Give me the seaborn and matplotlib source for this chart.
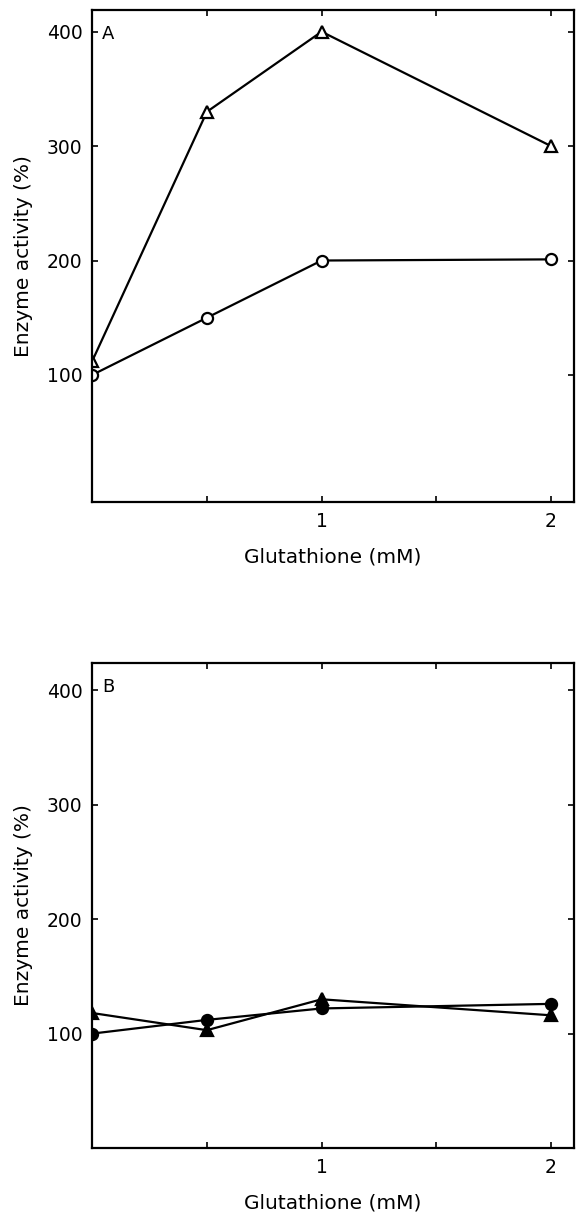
import matplotlib
matplotlib.use("Agg")
import matplotlib.pyplot as plt
import seaborn as sns
import pandas as pd

# glutathione concentrations (mM)
gsh = [0, 0.5, 1, 2]

# panel A: open symbols
a_triangle = [112, 330, 400, 300]
a_circle = [100, 150, 200, 201]

# panel B: filled symbols
b_triangle = [118, 103, 130, 116]
b_circle = [100, 112, 122, 126]

y_ticks = [100, 200, 300, 400]
x_ticks = [0.5, 1, 1.5, 2]
x_labels = ["", "1", "", "2"]

sns.set_style("ticks")
plt.rcParams["font.family"] = ["DejaVu Sans"]

fig = plt.figure(figsize=(5.76, 12.13), dpi=100)
ax_a = fig.add_axes([0.16, 0.5862, 0.8365, 0.4056])
ax_b = fig.add_axes([0.16, 0.0536, 0.8365, 0.3998])


def panel(ax, tri, circ, filled, letter, ylim):
    df = pd.DataFrame({"x": gsh, "tri": tri, "circ": circ})
    face = "black" if filled else "white"
    sns.lineplot(data=df, x="x", y="tri", ax=ax, color="black", lw=1.6,
                 marker="^", markersize=8, markerfacecolor=face,
                 markeredgecolor="black", markeredgewidth=1.6)
    sns.lineplot(data=df, x="x", y="circ", ax=ax, color="black", lw=1.6,
                 marker="o", markersize=8, markerfacecolor=face,
                 markeredgecolor="black", markeredgewidth=1.6)
    ax.set_xlim(0, 2.1)
    ax.set_ylim(*ylim)
    ax.set_xticks(x_ticks)
    ax.set_xticklabels(x_labels)
    ax.set_yticks(y_ticks)
    ax.tick_params(direction="in", length=4, width=1.2, top=True, right=True,
                   labelsize=13.5, pad=7, colors="black")
    for s in ax.spines.values():
        s.set_linewidth(1.6)
        s.set_color("black")
    ax.set_xlabel("Glutathione (mM)", fontsize=14.5, labelpad=12, color="black")
    ax.set_ylabel("Enzyme activity (%)", fontsize=14.5, labelpad=10, color="black")
    ax.text(0.02, 0.97, letter, transform=ax.transAxes, fontsize=13,
            va="top", ha="left", color="black")
    ax.grid(False)


panel(ax_a, a_triangle, a_circle, False, "A", (-11, 419))
panel(ax_b, b_triangle, b_circle, True, "B", (0, 424))

fig.savefig("out.png", dpi=100)
